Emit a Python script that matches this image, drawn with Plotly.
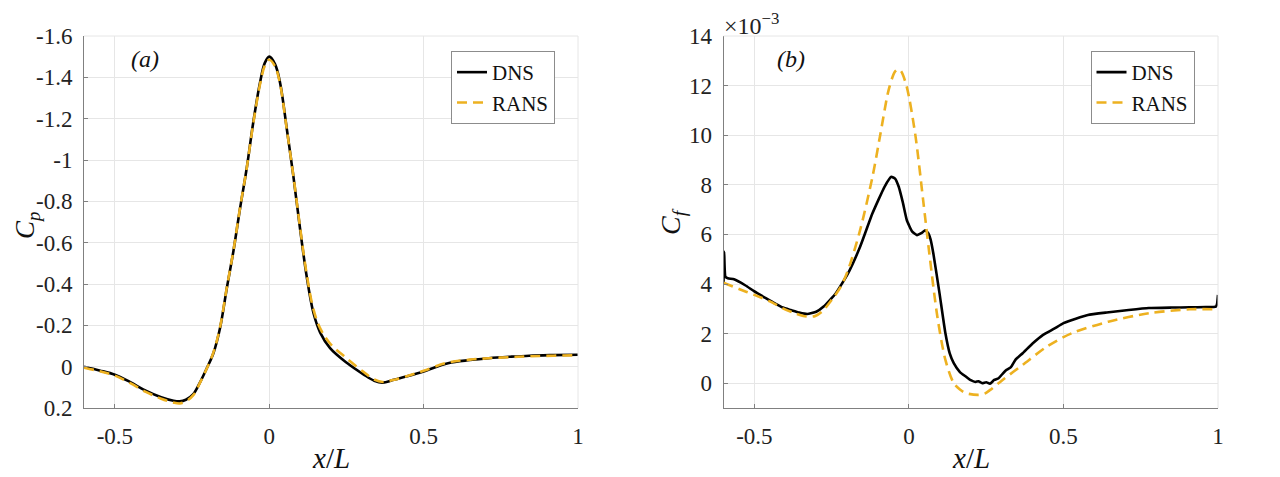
import plotly.graph_objects as go

# ---- data ----
# panel (a): pressure coefficient
x_cp_dns = [-0.6, -0.55, -0.5, -0.45, -0.4, -0.35, -0.31, -0.29, -0.27, -0.246, -0.225, -0.203,
            -0.181, -0.159, -0.138, -0.116, -0.095, -0.073, -0.052, -0.030, -0.014, 0.0, 0.019,
            0.035, 0.057, 0.078, 0.100, 0.121, 0.143, 0.165, 0.197, 0.251, 0.305, 0.34, 0.368,
            0.40, 0.45, 0.5, 0.579, 0.65, 0.711, 0.78, 0.842, 0.92, 1.0]
cp_dns = [0.0, 0.018, 0.039, 0.075, 0.116, 0.148, 0.165, 0.168, 0.160, 0.133, 0.078, 0.010,
          -0.065, -0.190, -0.375, -0.560, -0.762, -0.960, -1.180, -1.374, -1.471, -1.50, -1.463,
          -1.374, -1.149, -0.923, -0.665, -0.439, -0.261, -0.165, -0.090, -0.019, 0.037, 0.068,
          0.077, 0.065, 0.045, 0.023, -0.017, -0.032, -0.041, -0.048, -0.053, -0.056, -0.058]

x_cp_rans = [-0.6, -0.55, -0.5, -0.45, -0.4, -0.35, -0.31, -0.29, -0.27, -0.246, -0.225, -0.203,
             -0.181, -0.159, -0.138, -0.116, -0.095, -0.073, -0.052, -0.030, -0.014, 0.0, 0.019,
             0.035, 0.057, 0.078, 0.100, 0.121, 0.143, 0.165, 0.197, 0.251, 0.305, 0.34, 0.368,
             0.40, 0.45, 0.5, 0.579, 0.65, 0.711, 0.78, 0.842, 0.92, 1.0]
cp_rans = [0.005, 0.022, 0.043, 0.08, 0.122, 0.155, 0.174, 0.178, 0.168, 0.138, 0.080, 0.011,
           -0.068, -0.194, -0.378, -0.562, -0.765, -0.960, -1.175, -1.365, -1.458, -1.485, -1.452,
           -1.368, -1.146, -0.925, -0.672, -0.450, -0.278, -0.185, -0.112, -0.040, 0.025, 0.062,
           0.074, 0.065, 0.044, 0.020, -0.020, -0.034, -0.041, -0.046, -0.050, -0.053, -0.055]

# panel (b): skin friction coefficient (x 1e-3)
x_cf_dns = [-0.600, -0.598, -0.594, -0.586, -0.566, -0.53, -0.5, -0.466, -0.434, -0.408, -0.382,
            -0.355, -0.329, -0.30, -0.276, -0.237, -0.197, -0.158, -0.118, -0.079, -0.057, -0.045,
            -0.033, -0.02, -0.007, 0.01, 0.026, 0.04, 0.053, 0.063, 0.07, 0.079, 0.099, 0.118,
            0.132, 0.145, 0.165, 0.184, 0.20, 0.215, 0.225, 0.237, 0.25, 0.262, 0.276, 0.29,
            0.303, 0.316, 0.33, 0.345, 0.368, 0.40, 0.434, 0.47, 0.5, 0.54, 0.579, 0.64, 0.711,
            0.776, 0.85, 0.908, 0.96, 0.993, 0.997, 1.0]
cf_dns = [4.0, 5.3, 4.3, 4.23, 4.19, 3.95, 3.7, 3.45, 3.22, 3.05, 2.95,
          2.85, 2.79, 2.88, 3.09, 3.62, 4.43, 5.50, 6.85, 7.92, 8.32, 8.25,
          7.92, 7.3, 6.58, 6.12, 5.97, 6.05, 6.17, 6.04, 5.8, 5.23, 3.62, 2.01,
          1.2, 0.81, 0.45, 0.27, 0.12, 0.05, 0.08, 0.0, 0.04, -0.02, 0.13, 0.2,
          0.38, 0.54, 0.65, 0.95, 1.21, 1.6, 1.95, 2.2, 2.42, 2.6, 2.75, 2.85, 2.95,
          3.03, 3.05, 3.06, 3.07, 3.09, 3.2, 3.56]

x_cf_rans = [-0.6, -0.55, -0.5, -0.45, -0.408, -0.375, -0.342, -0.32, -0.303, -0.28, -0.25, -0.22,
             -0.197, -0.158, -0.118, -0.092, -0.066, -0.046, -0.036, -0.026, -0.007, 0.020, 0.046,
             0.066, 0.092, 0.118, 0.145, 0.165, 0.184, 0.224, 0.245, 0.263, 0.303, 0.368, 0.447,
             0.526, 0.645, 0.776, 0.908, 1.0]
cf_rans = [4.05, 3.8, 3.56, 3.3, 3.02, 2.85, 2.71, 2.68, 2.71, 2.9, 3.36, 3.9,
           4.56, 6.17, 8.32, 10.07, 11.81, 12.55, 12.65, 12.59, 11.95, 10.07, 7.38,
           5.23, 2.68, 0.94, 0.0, -0.25, -0.40, -0.47, -0.42, -0.27, 0.13, 0.74, 1.48,
           2.01, 2.48, 2.82, 2.98, 2.98]

x_ticks = [-0.5, 0, 0.5, 1]
x_ticktext = ["-0.5", "0", "0.5", "1"]
cp_ticks = [-1.6, -1.4, -1.2, -1.0, -0.8, -0.6, -0.4, -0.2, 0.0, 0.2]
cp_ticktext = ["-1.6", "-1.4", "-1.2", "-1", "-0.8", "-0.6", "-0.4", "-0.2", "0", "0.2"]
cf_ticks = [0, 2, 4, 6, 8, 10, 12, 14]
cf_ticktext = ["0", "2", "4", "6", "8", "10", "12", "14"]

# ---- style ----
FONT = "Liberation Serif"
BLACK = "#000000"
ORANGE = "#EDB120"
GRID = "#e6e6e6"
AXIS = "#808080"

# page body has an 8px margin, so the figure is placed 8px in from the window corner
W, H = 1272, 469


def px(x):
    return (x - 8) / W


def py(y):
    return 1 - (y - 8) / H


fig = go.Figure()

fig.add_trace(go.Scatter(x=x_cp_dns, y=cp_dns, mode="lines", name="DNS",
                         line=dict(color=BLACK, width=2.6, shape="spline", smoothing=1.0),
                         xaxis="x", yaxis="y", legend="legend"))
fig.add_trace(go.Scatter(x=x_cp_rans, y=cp_rans, mode="lines", name="RANS",
                         line=dict(color=ORANGE, width=2.6, dash="10px,6px", shape="spline", smoothing=1.0),
                         xaxis="x", yaxis="y", legend="legend"))
fig.add_trace(go.Scatter(x=x_cf_dns, y=cf_dns, mode="lines", name="DNS",
                         line=dict(color=BLACK, width=2.6, shape="spline", smoothing=0.4),
                         xaxis="x2", yaxis="y2", legend="legend2"))
fig.add_trace(go.Scatter(x=x_cf_rans, y=cf_rans, mode="lines", name="RANS",
                         line=dict(color=ORANGE, width=2.6, dash="10px,6px", shape="spline", smoothing=0.8),
                         xaxis="x2", yaxis="y2", legend="legend2"))


def base_axis():
    return dict(showgrid=True, gridcolor=GRID, gridwidth=1, zeroline=False, automargin=False,
                showline=True, linecolor=AXIS, linewidth=1,
                ticks="inside", ticklen=4, tickcolor=AXIS,
                tickfont=dict(family=FONT, size=23, color="#222"))


def leg(x):
    return dict(bgcolor="white", bordercolor="#8c8c8c", borderwidth=1,
                font=dict(family=FONT, size=21, color="#111"),
                xanchor="left", yanchor="top", tracegroupgap=0, itemwidth=30,
                x=x, y=py(51))


fig.update_layout(
    template="none",
    width=W, height=H,
    margin=dict(l=0, r=0, t=0, b=0, autoexpand=False),
    paper_bgcolor="white", plot_bgcolor="white",
    font=dict(family=FONT),
    xaxis=dict(base_axis(), domain=[px(84), px(578)], anchor="y", range=[-0.6, 1],
               tickvals=x_ticks, ticktext=x_ticktext, ticklabelstandoff=7),
    yaxis=dict(base_axis(), domain=[py(408), py(36)], anchor="x", range=[0.2, -1.6],
               tickvals=cp_ticks, ticktext=cp_ticktext, ticklabelstandoff=6),
    xaxis2=dict(base_axis(), domain=[px(723.5), px(1218)], anchor="y2", range=[-0.6, 1],
                tickvals=x_ticks, ticktext=x_ticktext, ticklabelstandoff=7),
    yaxis2=dict(base_axis(), domain=[py(408), py(36)], anchor="x2", range=[-1, 14],
                tickvals=cf_ticks, ticktext=cf_ticktext, ticklabelstandoff=6),
    legend=leg(px(451)),
    legend2=leg(px(1090.5)),
    showlegend=True,
)

# light top/right box edges
for xr, yr in [("x", "y"), ("x2", "y2")]:
    fig.add_shape(type="line", xref=xr + " domain", yref=yr + " domain",
                  x0=0, x1=1, y0=1, y1=1, line=dict(color=GRID, width=1))
    fig.add_shape(type="line", xref=xr + " domain", yref=yr + " domain",
                  x0=1, x1=1, y0=0, y1=1, line=dict(color=GRID, width=1))

ann_font = dict(family=FONT, size=24, color="#111")
fig.add_annotation(text="<i>(a)</i>", x=px(145), y=py(59), xref="paper", yref="paper",
                   xanchor="center", yanchor="middle", showarrow=False, font=ann_font)
fig.add_annotation(text="<i>(b)</i>", x=px(791), y=py(59), xref="paper", yref="paper",
                   xanchor="center", yanchor="middle", showarrow=False, font=ann_font)
fig.add_annotation(text="×10<sup>−3</sup>", x=px(723), y=py(24), xref="paper", yref="paper",
                   xanchor="left", yanchor="middle", showarrow=False, borderpad=0,
                   font=dict(family=FONT, size=24, color="#222"))

title_font = dict(family=FONT, size=29, color="#111")
for cx in [331, 970.5]:
    fig.add_annotation(text="<i>x</i>/<i>L</i>", x=px(cx), y=py(458), xref="paper", yref="paper",
                       xanchor="center", yanchor="middle", showarrow=False, borderpad=0,
                       font=title_font)
fig.add_annotation(text="<i>C<sub>p</sub></i>", x=px(27), y=py(226), xref="paper", yref="paper",
                   xanchor="center", yanchor="middle", textangle=-90, showarrow=False,
                   borderpad=0, font=dict(family=FONT, size=27, color="#111"))
fig.add_annotation(text="<i>C<sub>f</sub></i>", x=px(673), y=py(222), xref="paper", yref="paper",
                   xanchor="center", yanchor="middle", textangle=-90, showarrow=False,
                   borderpad=0, font=dict(family=FONT, size=28, color="#111"))

fig.write_html("out.html")
